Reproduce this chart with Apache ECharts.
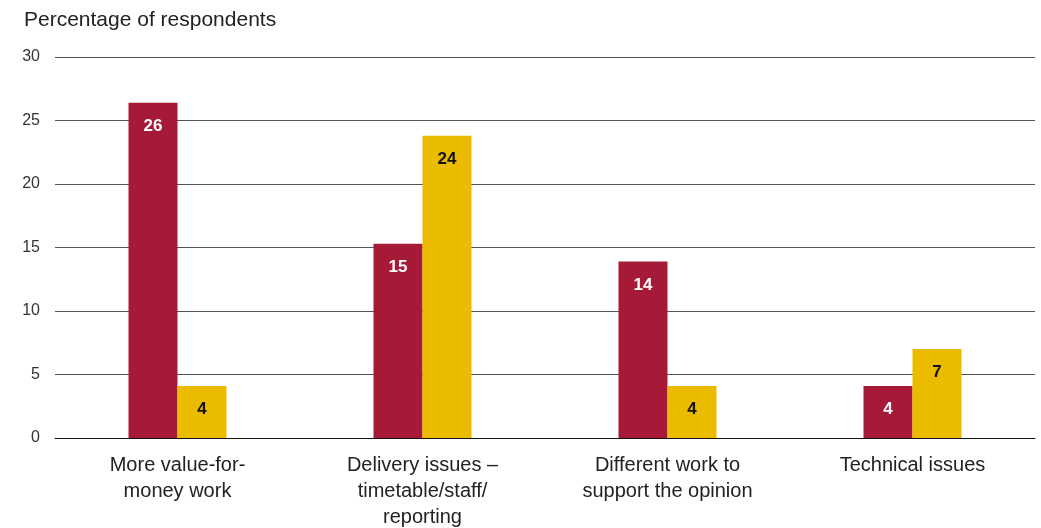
<!DOCTYPE html>
<html>
<head>
<meta charset="utf-8">
<script src="https://cdn.jsdelivr.net/npm/echarts@6/dist/echarts.min.js"></script>
<style>
  html, body { margin: 0; padding: 0; background: #fff; }
  #chart { width: 1041px; height: 528px; }
</style>
</head>
<body>
<div id="chart"></div>
<script>
const categories = [
  'More value-for-\nmoney work',
  'Delivery issues –\ntimetable/staff/\nreporting',
  'Different work to\nsupport the opinion',
  'Technical issues'
];
const redValues = [26.4, 15.3, 13.9, 4.1];
const yellowValues = [4.1, 23.8, 4.1, 7.0];
const colors = ['#A71A37', '#EBBB00'];

const chart = echarts.init(document.getElementById('chart'));

const font = '"Liberation Sans", Arial, sans-serif';

function barLabel(color) {
  return {
    show: true,
    position: 'insideTop',
    distance: 15,
    color: color,
    fontFamily: font,
    fontSize: 17,
    fontWeight: 'bold',
    formatter: p => Math.round(p.value)
  };
}

const option = {
  animation: false,
  color: colors,
  title: {
    text: 'Percentage of respondents',
    left: 19,
    top: 5,
    textStyle: {
      fontFamily: font,
      fontSize: 21,
      fontWeight: 'normal',
      color: '#222'
    }
  },
  grid: {
    left: 55,
    right: 6,
    top: 57,
    bottom: 90,
    outerBoundsMode: 'none'
  },
  xAxis: {
    type: 'category',
    data: categories,
    axisTick: { show: false },
    axisLine: { lineStyle: { color: '#111', width: 1 } },
    axisLabel: {
      fontFamily: font,
      fontSize: 20,
      color: '#222',
      lineHeight: 26,
      margin: 14
    }
  },
  yAxis: {
    type: 'value',
    min: 0,
    max: 30,
    interval: 5,
    axisLine: { show: false },
    axisTick: { show: false },
    axisLabel: {
      fontFamily: font,
      fontSize: 16,
      color: '#333',
      margin: 15
    },
    splitLine: { lineStyle: { color: '#555', width: 1 } }
  },
  series: [
    {
      type: 'bar',
      data: redValues,
      barWidth: 49,
      barGap: '0%',
      label: barLabel('#fff')
    },
    {
      type: 'bar',
      data: yellowValues,
      barWidth: 49,
      label: barLabel('#111')
    }
  ]
};

chart.setOption(option);
</script>
</body>
</html>
